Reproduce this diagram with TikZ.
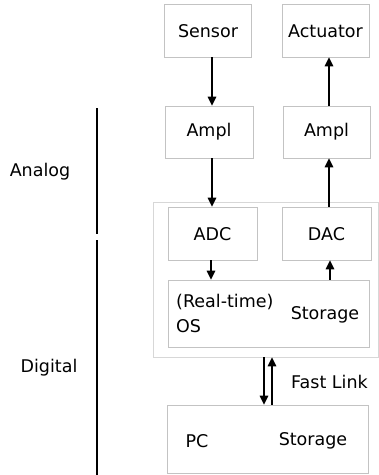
\documentclass[tikz,border=0pt]{standalone}
\usepackage{fontspec}
\setmainfont{DejaVu Sans}
\usetikzlibrary{arrows.meta}
\definecolor{boxgray}{RGB}{195,195,195}
\definecolor{outergray}{RGB}{215,215,215}
\begin{document}
\begin{tikzpicture}[x=1pt,y=-1pt,
  blk/.style={draw=boxgray,line width=0.8pt,rectangle,inner sep=0pt},
  lbl/.style={font=\fontsize{17.5}{21}\selectfont,inner sep=0pt},
  arr/.style={-{Triangle[length=9pt,width=8.5pt]},line width=1.6pt,black},
  side/.style={line width=1.5pt,black}]
\useasboundingbox (0,0) rectangle (379,475);
% arrow x positions
\coordinate (xA) at (212,0);
\coordinate (xB) at (211,0);
\coordinate (xC) at (329,0);
\coordinate (xD) at (330,0);
\coordinate (xE) at (264,0);
\coordinate (xF) at (272,0);
% outer digital box
\node[draw=outergray,line width=0.8pt,minimum width=225pt,minimum height=155pt] (outer) at (265.5,279.5) {};
% blocks
\node[blk,minimum width=87pt,minimum height=53pt] (sensor) at (208,30.5) {};
\node[lbl] at (208,31) {Sensor};
\node[blk,minimum width=87pt,minimum height=53pt] (act) at (325.5,30.5) {};
\node[lbl] at (325.5,31) {Actuator};
\node[blk,minimum width=88pt,minimum height=52pt] (amplL) at (209,132) {};
\node[lbl] at (209,132) {Ampl};
\node[blk,minimum width=87pt,minimum height=52pt] (amplR) at (326.5,132) {};
\node[lbl] at (326.5,132) {Ampl};
\node[blk,minimum width=89pt,minimum height=53pt] (adc) at (212.5,233.5) {};
\node[lbl] at (212.5,234) {ADC};
\node[blk,minimum width=89pt,minimum height=53pt] (dac) at (326.5,233.5) {};
\node[lbl] at (326.5,234) {DAC};
\node[blk,minimum width=201pt,minimum height=67pt] (os) at (268.5,313.5) {};
\node[lbl,anchor=west,align=left] at (176,313) {(Real-time)\\[4pt]OS};
\node[lbl] at (325,315) {Storage};
\node[blk,minimum width=201pt,minimum height=68pt] (pc) at (267.5,439) {};
\node[lbl] at (197,441) {PC};
\node[lbl] at (313,441) {Storage};
\node[lbl,anchor=west] (fast) at (291,382) {Fast Link};
% arrows
\draw[arr] (sensor.south -| xA) -- (amplL.north -| xA);
\draw[arr] (amplL.south -| xA) -- (adc.north -| xA);
\draw[arr] (adc.south -| xB) -- (os.north -| xB);
\draw[arr] (os.north -| xD) -- (dac.south -| xD);
\draw[arr] (dac.north -| xC) -- (amplR.south -| xC);
\draw[arr] (amplR.north -| xC) -- (act.south -| xC);
\draw[arr] (outer.south -| xE) -- (pc.north -| xE);
\draw[arr] (pc.north -| xF) -- (outer.south -| xF);
% side markers
\coordinate (a1) at (97,108);
\coordinate (a2) at (97,234);
\coordinate (d1) at (97,240);
\coordinate (d2) at (97,475);
\draw[side] (a1) -- (a2);
\draw[side] (d1) -- (d2);
\node[lbl] (analog) at (40,172) {Analog};
\node[lbl] (digital) at (49,368) {Digital};
\end{tikzpicture}
\end{document}
